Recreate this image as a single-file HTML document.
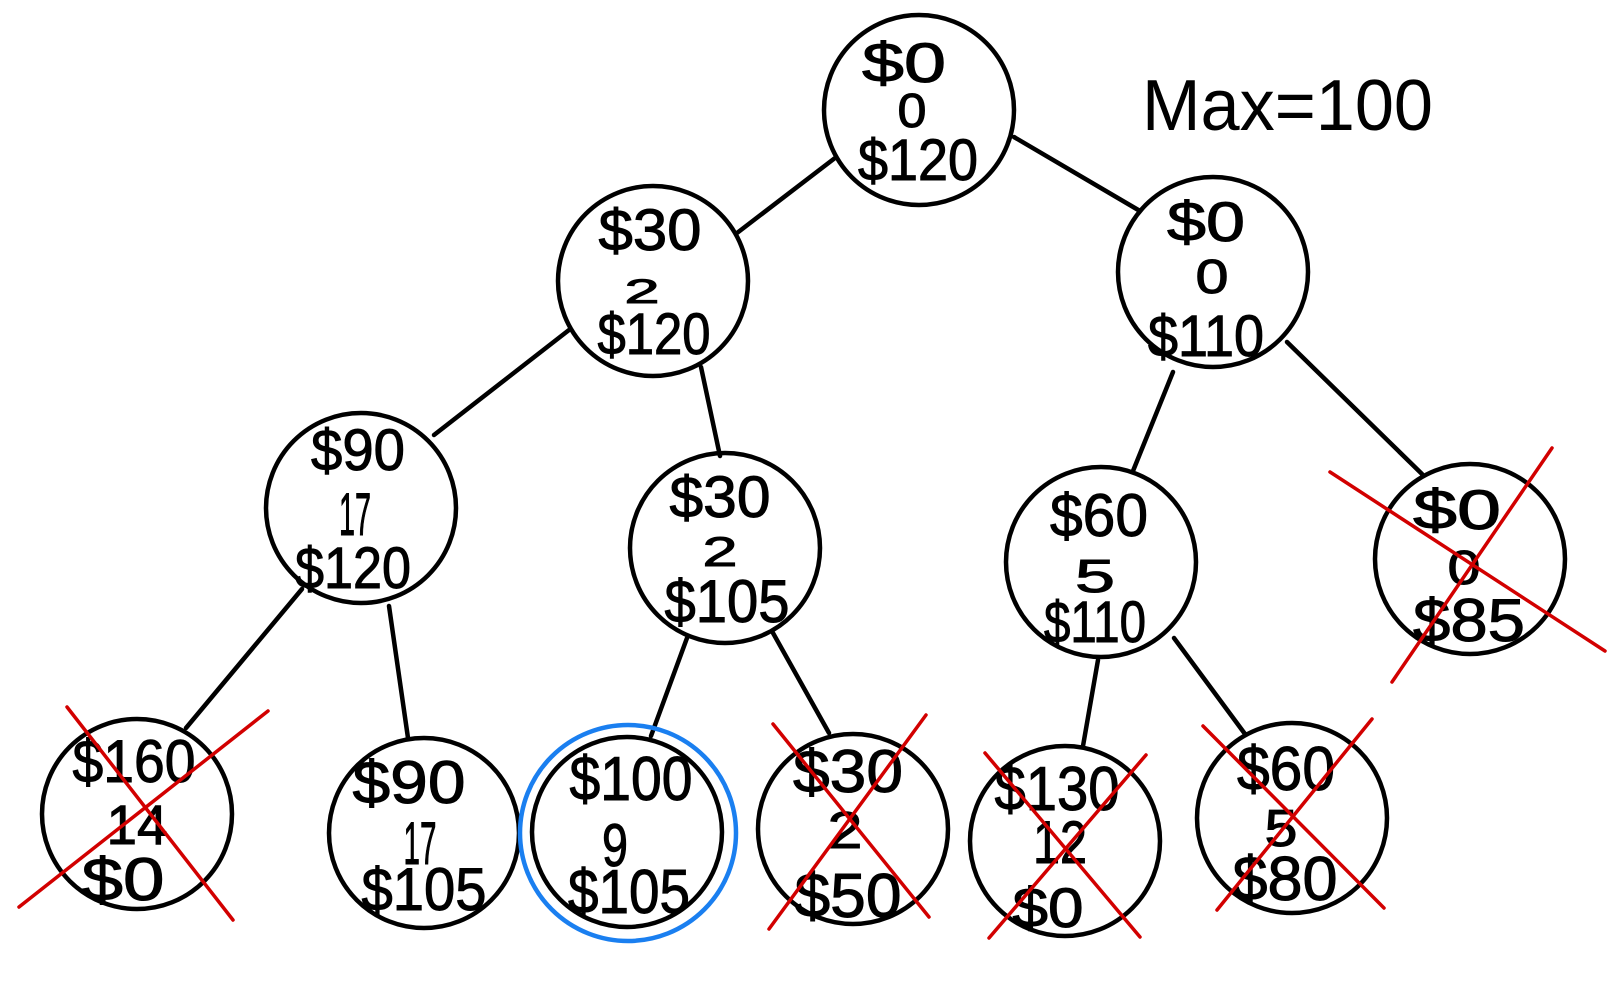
<!DOCTYPE html>
<html>
<head>
<meta charset="utf-8">
<style>
  html, body { margin: 0; padding: 0; background: #ffffff; }
  svg { display: block; }
  text { font-family: "Liberation Sans", "DejaVu Sans", sans-serif; fill: #000; }
  .t { stroke: #000; stroke-width: 1; }
</style>
</head>
<body>
<svg width="1618" height="1000" viewBox="0 0 1618 1000" xmlns="http://www.w3.org/2000/svg">
  <rect width="1618" height="1000" fill="#ffffff"/>

  <g stroke="#000" stroke-width="4.5" stroke-linecap="round" fill="none">
    <line x1="835" y1="158" x2="737" y2="233"/>
    <line x1="1014" y1="137" x2="1140" y2="211"/>
    <line x1="569" y1="330" x2="434" y2="435"/>
    <line x1="701" y1="367" x2="720" y2="456"/>
    <line x1="1173" y1="372" x2="1133" y2="471"/>
    <line x1="1287" y1="342" x2="1422" y2="474"/>
    <line x1="302" y1="589" x2="186" y2="728"/>
    <line x1="389" y1="606" x2="408" y2="738"/>
    <line x1="687" y1="638" x2="651" y2="736"/>
    <line x1="773" y1="633" x2="829" y2="733"/>
    <line x1="1098" y1="660" x2="1083" y2="746"/>
    <line x1="1174" y1="638" x2="1245" y2="734"/>
  </g>

  <g stroke="#000" stroke-width="4.5" fill="none">
    <circle cx="919" cy="110" r="95"/>
    <circle cx="653" cy="281" r="95"/>
    <circle cx="1213" cy="272" r="95"/>
    <circle cx="361" cy="508" r="95"/>
    <circle cx="725" cy="548" r="95"/>
    <circle cx="1101" cy="562" r="95"/>
    <circle cx="1470" cy="559" r="95"/>
    <circle cx="137" cy="814" r="95"/>
    <circle cx="424" cy="833" r="95"/>
    <circle cx="627" cy="832" r="95"/>
    <circle cx="853" cy="829" r="95"/>
    <circle cx="1065" cy="841" r="95"/>
    <circle cx="1292" cy="818" r="95"/>
  </g>
  <circle cx="628" cy="833" r="108" stroke="#1a7ff0" stroke-width="4.5" fill="none"/>

  <g text-anchor="middle" class="t">
    <text x="904" y="82" font-size="56" textLength="84" lengthAdjust="spacingAndGlyphs">$0</text>
    <text x="912" y="127" font-size="48" textLength="29" lengthAdjust="spacingAndGlyphs">0</text>
    <text x="918" y="180" font-size="58" textLength="120" lengthAdjust="spacingAndGlyphs">$120</text>

    <text x="1206" y="241" font-size="56" textLength="78" lengthAdjust="spacingAndGlyphs">$0</text>
    <text x="1212" y="293" font-size="48" textLength="33" lengthAdjust="spacingAndGlyphs">0</text>
    <text x="1206" y="356" font-size="58" textLength="116" lengthAdjust="spacingAndGlyphs">$110</text>

    <text x="650" y="250" font-size="58" textLength="103" lengthAdjust="spacingAndGlyphs">$30</text>
    <text x="642" y="303" font-size="34" textLength="35" lengthAdjust="spacingAndGlyphs">2</text>
    <text x="654" y="354" font-size="58" textLength="113" lengthAdjust="spacingAndGlyphs">$120</text>

    <text x="358" y="470" font-size="58" textLength="94" lengthAdjust="spacingAndGlyphs">$90</text>
    <text x="355" y="535" font-size="60" textLength="32" lengthAdjust="spacingAndGlyphs">17</text>
    <text x="353" y="588" font-size="58" textLength="116" lengthAdjust="spacingAndGlyphs">$120</text>

    <text x="720" y="517" font-size="58" textLength="101" lengthAdjust="spacingAndGlyphs">$30</text>
    <text x="720" y="566" font-size="42" textLength="35" lengthAdjust="spacingAndGlyphs">2</text>
    <text x="727" y="622" font-size="60" textLength="125" lengthAdjust="spacingAndGlyphs">$105</text>

    <text x="1099" y="536" font-size="60" textLength="98" lengthAdjust="spacingAndGlyphs">$60</text>
    <text x="1095" y="592" font-size="46" textLength="40" lengthAdjust="spacingAndGlyphs">5</text>
    <text x="1095" y="642" font-size="58" textLength="102" lengthAdjust="spacingAndGlyphs">$110</text>

    <text x="1457" y="529" font-size="56" textLength="88" lengthAdjust="spacingAndGlyphs">$0</text>
    <text x="1464" y="584" font-size="48" textLength="33" lengthAdjust="spacingAndGlyphs">0</text>
    <text x="1469" y="641" font-size="60" textLength="112" lengthAdjust="spacingAndGlyphs">$85</text>

    <text x="134" y="782" font-size="60" textLength="123" lengthAdjust="spacingAndGlyphs">$160</text>
    <text x="137" y="844" font-size="56" textLength="61" lengthAdjust="spacingAndGlyphs">14</text>
    <text x="123" y="900" font-size="60" textLength="83" lengthAdjust="spacingAndGlyphs">$0</text>

    <text x="409" y="803" font-size="60" textLength="113" lengthAdjust="spacingAndGlyphs">$90</text>
    <text x="420" y="864" font-size="60" textLength="33" lengthAdjust="spacingAndGlyphs">17</text>
    <text x="424" y="910" font-size="60" textLength="125" lengthAdjust="spacingAndGlyphs">$105</text>

    <text x="631" y="800" font-size="62" textLength="123" lengthAdjust="spacingAndGlyphs">$100</text>
    <text x="615" y="866" font-size="60" textLength="26" lengthAdjust="spacingAndGlyphs">9</text>
    <text x="629" y="913" font-size="62" textLength="122" lengthAdjust="spacingAndGlyphs">$105</text>

    <text x="848" y="792" font-size="60" textLength="110" lengthAdjust="spacingAndGlyphs">$30</text>
    <text x="845" y="848" font-size="52" textLength="35" lengthAdjust="spacingAndGlyphs">2</text>
    <text x="848" y="917" font-size="62" textLength="107" lengthAdjust="spacingAndGlyphs">$50</text>

    <text x="1057" y="810" font-size="62" textLength="125" lengthAdjust="spacingAndGlyphs">$130</text>
    <text x="1060" y="863" font-size="60" textLength="54" lengthAdjust="spacingAndGlyphs">12</text>
    <text x="1048" y="927" font-size="56" textLength="71" lengthAdjust="spacingAndGlyphs">$0</text>

    <text x="1286" y="790" font-size="62" textLength="98" lengthAdjust="spacingAndGlyphs">$60</text>
    <text x="1281" y="846" font-size="52" textLength="33" lengthAdjust="spacingAndGlyphs">5</text>
    <text x="1285" y="900" font-size="62" textLength="105" lengthAdjust="spacingAndGlyphs">$80</text>
  </g>

  <text x="1142" y="130" font-size="72" textLength="291" lengthAdjust="spacingAndGlyphs">Max=100</text>

  <g stroke="#d20000" stroke-width="3.5" stroke-linecap="round">
    <line x1="67" y1="707" x2="233" y2="920"/>
    <line x1="268" y1="711" x2="19" y2="907"/>
    <line x1="773" y1="724" x2="929" y2="917"/>
    <line x1="926" y1="715" x2="769" y2="929"/>
    <line x1="985" y1="753" x2="1140" y2="937"/>
    <line x1="1146" y1="755" x2="989" y2="938"/>
    <line x1="1203" y1="726" x2="1384" y2="908"/>
    <line x1="1372" y1="719" x2="1217" y2="910"/>
    <line x1="1330" y1="472" x2="1605" y2="651"/>
    <line x1="1552" y1="448" x2="1392" y2="682"/>
  </g>
</svg>
</body>
</html>
